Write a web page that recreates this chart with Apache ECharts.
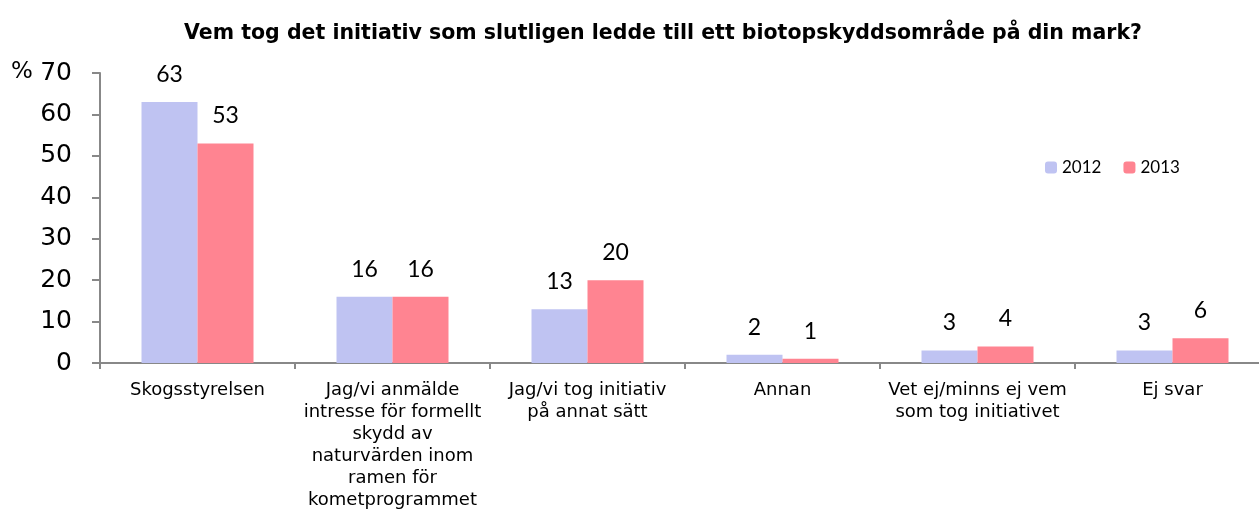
<!DOCTYPE html>
<html><head><meta charset="utf-8">
<script src="https://cdn.jsdelivr.net/npm/echarts@6/dist/echarts.min.js"></script>
<style>html,body{margin:0;padding:0;background:#fff;overflow:hidden}#c{width:1259px;height:510px}</style>
</head><body><div id="c"></div>
<script>
const categories = [
  "Skogsstyrelsen",
  "Jag/vi anmälde\nintresse för formellt\nskydd av\nnaturvärden inom\nramen för\nkometprogrammet",
  "Jag/vi tog initiativ\npå annat sätt",
  "Annan",
  "Vet ej/minns ej vem\nsom tog initiativet",
  "Ej svar"
];
const values2012 = [63, 16, 13, 2, 3, 3];
const values2013 = [53, 16, 20, 1, 4, 6];
const yTicks = { min: 0, max: 70, interval: 10 };

const chart = echarts.init(document.getElementById('c'));
const labelStyle = { show: true, position: 'top', distance: 16, fontFamily: 'Lato, "Open Sans", sans-serif', fontSize: 23, color: '#000' };
chart.setOption({
  animation: false,
  title: { text: 'Vem tog det initiativ som slutligen ledde till ett biotopskyddsområde på din mark?', left: 658, top: 18, textAlign: 'center',
    textStyle: { fontFamily: 'DejaVu Sans', fontWeight: 'bold', fontSize: 20.5, color: '#000' } },
  legend: { left: 1040, top: 154, itemWidth: 12, itemHeight: 12, itemGap: 22,
    textStyle: { fontFamily: 'Lato, "Open Sans", sans-serif', fontSize: 17, color: '#000' },
    data: ['2012', '2013'] },
  grid: { left: 100, top: 73, width: 1170, height: 290, containLabel: false, outerBoundsMode: 'none' },
  xAxis: { type: 'category', data: categories,
    axisLine: { lineStyle: { color: '#888', width: 2 } },
    axisTick: { show: true, length: 6, lineStyle: { color: '#888', width: 2 } },
    axisLabel: { interval: 0, margin: 16, fontFamily: 'DejaVu Sans', fontSize: 18, color: '#000', lineHeight: 22, align: 'center' } },
  yAxis: { type: 'value', min: yTicks.min, max: yTicks.max, interval: yTicks.interval,
    splitLine: { show: false },
    axisLine: { show: true, lineStyle: { color: '#888', width: 2 } },
    axisTick: { show: true, length: 8, lineStyle: { color: '#888', width: 2 } },
    axisLabel: { margin: 28, fontFamily: 'DejaVu Sans', fontSize: 25, color: '#000' } },
  graphic: [{ type: 'text', left: 11, top: 61, style: { text: '%', fontFamily: 'DejaVu Sans', fontSize: 23, fill: '#000' } }],
  series: [
    { name: '2012', type: 'bar', data: values2012, barWidth: 56, barGap: '0%', itemStyle: { color: '#BFC3F2' }, label: labelStyle },
    { name: '2013', type: 'bar', data: values2013, barWidth: 56, barGap: '0%', itemStyle: { color: '#FF8491' }, label: labelStyle }
  ]
});
</script></body></html>
